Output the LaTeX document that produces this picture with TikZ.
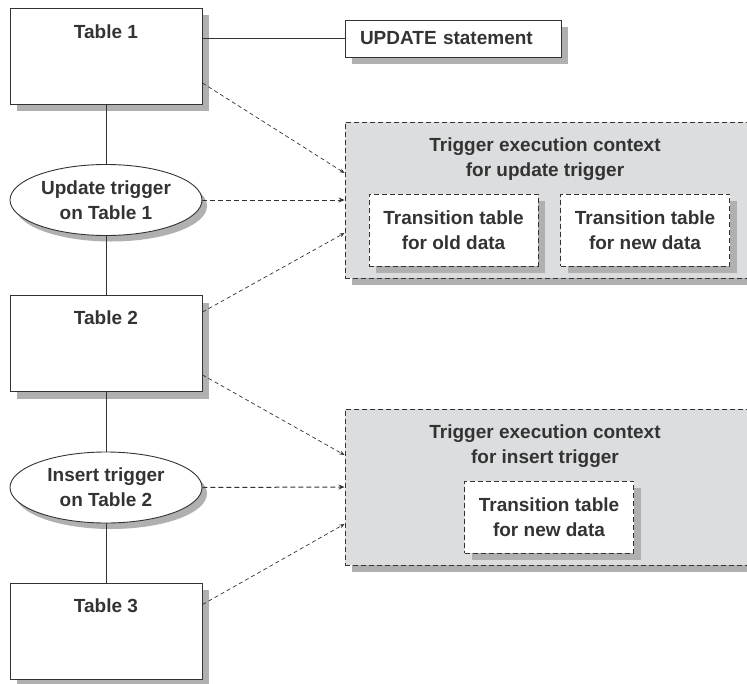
\documentclass[tikz,border=0pt]{standalone}
\usepackage{fontspec}
\setmainfont{Liberation Sans}
\usetikzlibrary{shapes.geometric,shadows,arrows.meta}
\definecolor{linegray}{HTML}{333333}
\definecolor{shadowgray}{HTML}{B0B0B0}
\definecolor{ctxgray}{HTML}{DCDDDF}
\tikzset{
  x=1pt, y=-1pt,
  every node/.style={font=\fontsize{19}{25}\selectfont\bfseries, text=linegray},
  shade7/.style={drop shadow={shadow xshift=7pt, shadow yshift=-7pt, fill=shadowgray, opacity=1}},
  tablebox/.style={draw=linegray, line width=0.9pt, fill=white, minimum width=192pt, minimum height=96pt, inner sep=0pt, shade7},
  trig/.style={ellipse, draw=linegray, line width=0.9pt, fill=white, minimum width=192pt, minimum height=71pt, inner sep=0pt, align=center,
    drop shadow={shadow xshift=5pt, shadow yshift=-6pt, fill=shadowgray, opacity=1}},
  ctxbox/.style={draw=linegray, dash pattern=on 5pt off 3pt, line width=0.9pt, fill=ctxgray, minimum width=405pt, minimum height=156pt, inner sep=0pt, shade7},
  transbox/.style={draw=linegray, dash pattern=on 5pt off 3pt, line width=0.9pt, fill=white, minimum width=169pt, minimum height=72pt, inner sep=0pt, align=center, shade7},
  solidlink/.style={draw=linegray, line width=0.9pt},
  dashlink/.style={draw=linegray, line width=0.7pt, dash pattern=on 4pt off 3pt, -{Stealth[length=5pt,width=4pt]}},
  dashlinkheavy/.style={draw=linegray, line width=1pt, dash pattern=on 5pt off 3pt, -{Stealth[length=6pt,width=5pt]}},
  tablelabel/.style={anchor=center, font=\fontsize{19}{25}\selectfont\bfseries, text=linegray},
}
\begin{document}
\begin{tikzpicture}
\useasboundingbox (0,0) rectangle (747,683);
\clip (0,0) rectangle (747,683);
% tables
\node[tablebox, label={[tablelabel, yshift=-24pt]north:Table 1}] (t1) at (106,56) {};
\node[tablebox, label={[tablelabel, yshift=-23pt]north:Table 2}] (t2) at (106,343.5) {};
\node[tablebox, label={[tablelabel, yshift=-23pt]north:Table 3}] (t3) at (106,631) {};
% triggers
\node[trig] (u) at (106,200) {Update trigger\\on Table 1};
\node[trig] (i) at (106,487.5) {Insert trigger\\on Table 2};
% update statement
\node[draw=linegray, line width=0.9pt, fill=white, minimum height=37pt, text width=186pt, inner xsep=15pt, inner ysep=0pt, align=left, shade7] (us) at (453,38.5) {UPDATE statement};
% contexts
\node[ctxbox] (c1) at (547.5,200) {};
\node[align=center] (c1t) at (545,159) {Trigger execution context\\for update trigger};
\node[transbox] (old1) at (453.5,230) {Transition table\\for old data};
\node[transbox] (new1) at (645,230) {Transition table\\for new data};
\node[ctxbox] (c2) at (547.5,487) {};
\node[align=center] (c2t) at (545,446) {Trigger execution context\\for insert trigger};
\node[transbox] (new2) at (549,517) {Transition table\\for new data};
% solid links
\draw[solidlink] (t1.south) -- (u.north);
\draw[solidlink] (u.south) -- (t2.north);
\draw[solidlink] (t2.south) -- (i.north);
\draw[solidlink] (i.south) -- (t3.north);
\draw[solidlink] (t1.east |- us.west) -- (us.west);
% dashed arrows
\draw[dashlink] ([yshift=-27pt]t1.east) -- ([yshift=27pt]c1.west);
\draw[dashlinkheavy] (u.east) -- (c1.west);
\draw[dashlink] ([yshift=-17pt]t2.north east) -- ([yshift=-33pt]c1.west);
\draw[dashlink] ([yshift=17pt]t2.south east) -- ([yshift=32pt]c2.west);
\draw[dashlinkheavy] (i.east) -- (c2.west);
\draw[dashlink] ([yshift=-22pt]t3.north east) -- ([yshift=-37pt]c2.west);
\end{tikzpicture}
\end{document}
